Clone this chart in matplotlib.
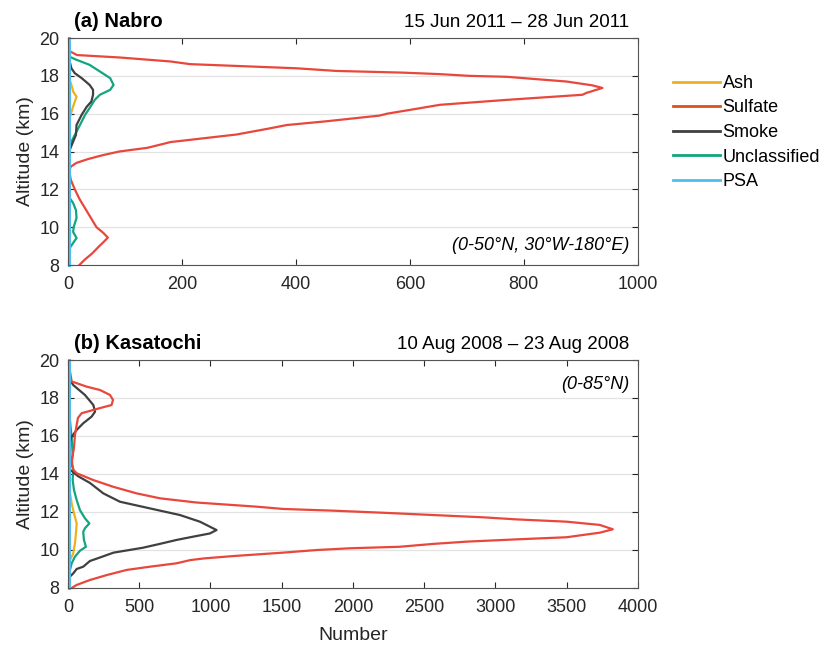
import numpy as np
import matplotlib
matplotlib.use("Agg")
from matplotlib import pyplot as plt
from matplotlib.lines import Line2D

plt.rcParams['font.family'] = ['Liberation Sans', 'DejaVu Sans']

# ---- panel (a) Nabro ----
a_sul_alt = [8.0, 8.3, 8.6, 9.0, 9.2, 9.45, 9.7, 10.0, 10.5, 11.0, 11.5, 12.0, 12.5, 13.0, 13.2, 13.4,
             13.6, 13.8, 14.0, 14.2, 14.5, 14.9, 15.2, 15.4, 15.6, 15.9, 16.0, 16.2, 16.47, 16.73,
             17.0, 17.1, 17.36, 17.5, 17.7, 17.95, 18.0, 18.09, 18.17, 18.26, 18.4, 18.62, 18.76,
             18.97, 19.1, 19.3, 19.5, 20.0]
a_sul_val = [20, 30, 42, 55, 62, 70, 62, 50, 40, 30, 20, 12, 5, 2, 5, 15,
             35, 60, 90, 140, 180, 296, 350, 384, 454, 547, 560, 600, 653, 770,
             903, 910, 938, 920, 875, 770, 705, 653, 588, 471, 401, 214, 180,
             91, 16, 3, 0, 0]
a_unc_alt = [8.0, 8.75, 8.9, 9.16, 9.43, 9.75, 10.0, 10.49, 10.9, 11.28, 11.54, 11.7, 14.0, 14.2,
             14.52, 14.88, 15.4, 15.94, 16.3, 16.73, 17.0, 17.26, 17.52, 17.88, 18.23, 18.58,
             18.85, 19.02, 19.2, 20.0]
a_unc_val = [0, 0, 3, 9, 15, 9, 10, 15, 14, 9, 3, 0, 0, 2,
             6, 12, 21, 30, 38, 47, 56, 74, 80, 74, 56, 38,
             15, 2, 0, 0]
a_smk_alt = [8.0, 13.9, 14.08, 14.52, 14.88, 15.4, 15.94, 16.37, 16.64, 17.0, 17.26, 17.52, 17.88,
             18.14, 18.4, 18.76, 18.95, 20.0]
a_smk_val = [0, 0, 3, 9, 14, 15, 24, 33, 41, 44, 44, 38, 24,
             12, 6, 3, 0, 0]
a_ash_alt = [8.0, 9.3, 9.5, 9.7, 12.3, 12.5, 12.7, 15.2, 15.4, 15.78, 16.29, 16.64, 16.9, 17.17,
             17.52, 17.88, 18.1, 20.0]
a_ash_val = [0, 0, 2, 0, 0, 2, 0, 0, 2, 3, 8, 12, 15, 9,
             6, 2, 0, 0]
a_psa_alt = [8.0, 12.0, 16.0, 20.0]
a_psa_val = [1, 1, 1, 1]

# ---- panel (b) Kasatochi ----
b_sul_alt = [8.0, 8.16, 8.42, 8.68, 8.95, 9.12, 9.3, 9.47, 9.56, 9.68, 9.86, 10.0, 10.09, 10.17,
             10.32, 10.44, 10.56, 10.67, 10.79, 10.91, 11.09, 11.32, 11.49, 11.61, 11.72, 11.84,
             11.96, 12.07, 12.16, 12.28, 12.5, 12.72, 12.98, 13.33, 13.68, 14.04, 14.2, 14.47,
             15.0, 15.37, 16.05, 16.58, 16.95, 17.2, 17.32, 17.47, 17.63, 17.9, 18.16, 18.42,
             18.6, 18.87, 19.4, 19.6, 20.0]
b_sul_val = [26, 61, 154, 272, 412, 575, 763, 860, 960, 1160, 1510, 1750, 1980, 2330,
             2563, 2800, 3150, 3500, 3615, 3733, 3825, 3733, 3500, 3150, 2914, 2563,
             2212, 1860, 1510, 1324, 900, 646, 482, 316, 178, 61, 40, 26,
             33, 42, 49, 61, 70, 96, 154, 225, 306, 316, 295, 225,
             130, 26, 14, 0, 0]
b_smk_alt = [8.0, 8.2, 8.42, 8.6, 8.77, 9.0, 9.12, 9.42, 9.62, 9.86, 10.12, 10.33, 10.53, 10.7,
             10.87, 11.05, 11.25, 11.49, 11.84, 12.19, 12.54, 12.98, 13.53, 13.88, 14.23, 14.6,
             15.0, 15.4, 15.7, 15.96, 16.32, 16.67, 17.02, 17.28, 17.63, 18.16, 18.68, 18.95,
             19.2, 20.0]
b_smk_val = [0, 0, 9, 14, 37, 61, 107, 154, 230, 320, 527, 650, 763, 878,
             996, 1043, 990, 926, 786, 575, 365, 248, 154, 72, 14, 8,
             10, 12, 14, 26, 61, 107, 166, 190, 178, 119, 37, 14,
             0, 0]
b_unc_alt = [8.0, 8.42, 8.95, 9.3, 9.65, 9.96, 10.17, 10.53, 10.96, 11.14, 11.4, 11.67, 12.1,
             12.63, 13.16, 13.68, 14.21, 14.74, 15.0, 15.9, 16.5, 17.0, 17.5, 18.0, 18.5, 20.0]
b_unc_val = [0, 0, 14, 26, 49, 84, 126, 112, 107, 119, 150, 119, 84,
             61, 42, 33, 37, 26, 33, 26, 18, 12, 10, 6, 0, 0]
b_ash_alt = [8.0, 9.2, 9.47, 9.82, 10.35, 10.87, 11.4, 11.93, 12.45, 12.98, 13.3, 17.2, 17.6,
             18.0, 18.3, 20.0]
b_ash_val = [0, 0, 14, 37, 49, 56, 61, 42, 26, 14, 0, 0, 10, 8, 0, 0]
b_psa_alt = [8.0, 12.0, 16.0, 20.0]
b_psa_val = [7, 7, 7, 7]

names = ['Ash', 'Sulfate', 'Smoke', 'Unclassified', 'PSA']
legend_colors = ['#EDB120', '#D95319', '#404040', '#12A57E', '#4DBEEE']
sul_line = '#E8473B'

fig = plt.figure(figsize=(8.21, 6.51), dpi=100)
ax1 = fig.add_axes([0.0828, 0.5929, 0.694, 0.3487])
ax2 = fig.add_axes([0.0828, 0.0968, 0.694, 0.3502])

def draw(ax, ash, sul, smk, unc, psa):
    ax.plot(ash[1], ash[0], color=legend_colors[0], lw=1.6)
    ax.plot(unc[1], unc[0], color=legend_colors[3], lw=1.6)
    ax.plot(smk[1], smk[0], color=legend_colors[2], lw=1.6)
    ax.plot(sul[1], sul[0], color=sul_line, lw=1.6)
    ax.plot(psa[1], psa[0], color=legend_colors[4], lw=2.2, clip_on=False)
    ax.set_ylim(8, 20)
    ax.set_yticks(np.arange(8, 21, 2))
    ax.yaxis.grid(True, color='#E3E3E3', lw=0.9)
    ax.set_axisbelow(True)
    ax.tick_params(direction='in', top=True, right=True, labelsize=13,
                   colors='#262626', length=4)
    ax.tick_params(axis='x', pad=8)
    ax.tick_params(axis='y', pad=6)
    for s in ax.spines.values():
        s.set_color('#555555')
    ax.set_ylabel('Altitude (km)', fontsize=14, color='#262626', labelpad=4)

draw(ax1, (a_ash_alt, a_ash_val), (a_sul_alt, a_sul_val), (a_smk_alt, a_smk_val),
     (a_unc_alt, a_unc_val), (a_psa_alt, a_psa_val))
ax1.set_xlim(0, 1000)
ax1.set_xticks([0, 200, 400, 600, 800, 1000])

draw(ax2, (b_ash_alt, b_ash_val), (b_sul_alt, b_sul_val), (b_smk_alt, b_smk_val),
     (b_unc_alt, b_unc_val), (b_psa_alt, b_psa_val))
ax2.set_xlim(0, 4000)
ax2.set_xticks(np.arange(0, 4001, 500))
ax2.set_xlabel('Number', fontsize=14, color='#262626', labelpad=8)

ax1.text(0.01, 1.03, '(a) Nabro', transform=ax1.transAxes, fontsize=14.5,
         fontweight='bold', ha='left', va='bottom')
ax1.text(0.985, 1.03, '15 Jun 2011 \u2013 28 Jun 2011', transform=ax1.transAxes,
         fontsize=13.5, ha='right', va='bottom')
ax1.text(0.985, 0.05, '(0-50\u00b0N, 30\u00b0W-180\u00b0E)', transform=ax1.transAxes,
         fontsize=13, style='italic', ha='right', va='bottom')
ax2.text(0.01, 1.03, '(b) Kasatochi', transform=ax2.transAxes, fontsize=14.5,
         fontweight='bold', ha='left', va='bottom')
ax2.text(0.985, 1.03, '10 Aug 2008 \u2013 23 Aug 2008', transform=ax2.transAxes,
         fontsize=13.5, ha='right', va='bottom')
ax2.text(0.985, 0.93, '(0-85\u00b0N)', transform=ax2.transAxes,
         fontsize=13, style='italic', ha='right', va='top')

handles = [Line2D([], [], color=c, lw=2) for c in legend_colors]
fig.legend(handles, names, loc='upper left', bbox_to_anchor=(0.80, 0.91),
           frameon=False, fontsize=13, handlelength=2.6, handletextpad=0.15,
           labelspacing=0.42)

fig.savefig('out.png', dpi=100)
